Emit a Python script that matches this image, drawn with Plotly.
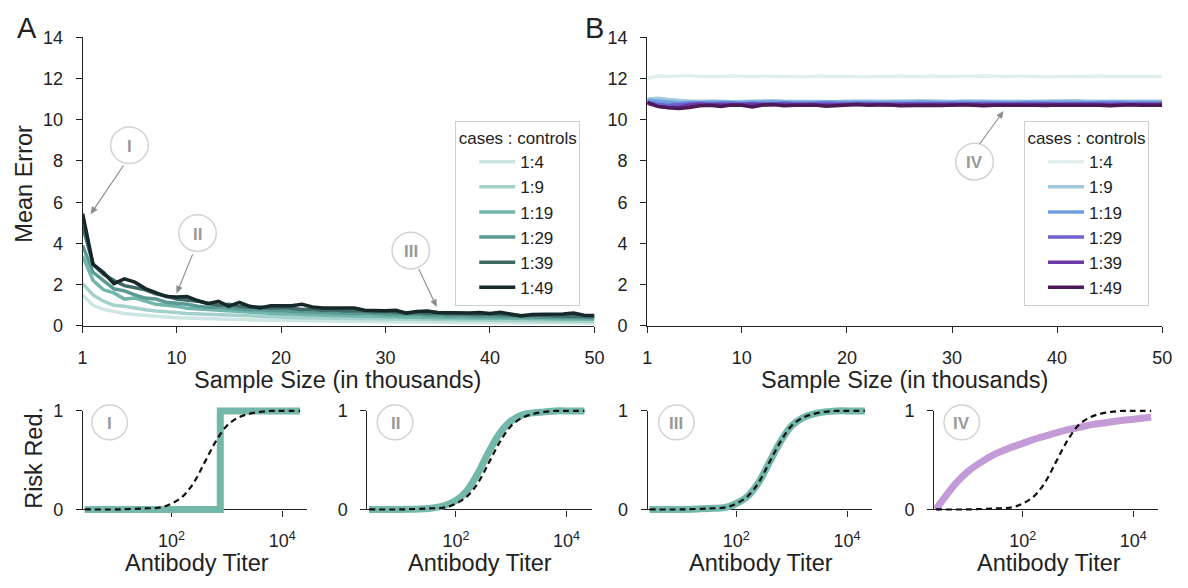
import math
import plotly.graph_objects as go

W, H = 1188, 588

# ---------------- data ----------------
sample_k = list(range(1, 51))
ratios = ["1:4", "1:9", "1:19", "1:29", "1:39", "1:49"]

err_A = {
    "1:4": [1.50, 1.00, 0.80, 0.68, 0.60, 0.55, 0.50, 0.46, 0.43, 0.40, 0.38, 0.36, 0.34, 0.33, 0.31, 0.30, 0.29,
            0.28, 0.27, 0.26, 0.25, 0.25, 0.24, 0.23, 0.23, 0.22, 0.22, 0.21, 0.21, 0.20, 0.20, 0.19, 0.19, 0.19,
            0.18, 0.18, 0.18, 0.17, 0.17, 0.17, 0.16, 0.16, 0.16, 0.16, 0.15, 0.15, 0.15, 0.15, 0.14, 0.14],
    "1:9": [2.05, 1.50, 1.20, 1.00, 0.95, 0.85, 0.78, 0.72, 0.70, 0.65, 0.60, 0.58, 0.55, 0.52, 0.50, 0.48, 0.47,
            0.45, 0.44, 0.42, 0.41, 0.40, 0.39, 0.38, 0.37, 0.36, 0.35, 0.35, 0.34, 0.33, 0.32, 0.32, 0.31, 0.30,
            0.30, 0.29, 0.29, 0.28, 0.28, 0.27, 0.27, 0.26, 0.26, 0.26, 0.25, 0.25, 0.24, 0.24, 0.24, 0.23],
    "1:19": [3.40, 2.20, 1.75, 1.60, 1.30, 1.35, 1.20, 1.05, 1.00, 0.95, 0.85, 0.82, 0.78, 0.74, 0.70, 0.68, 0.66,
             0.62, 0.60, 0.58, 0.58, 0.55, 0.53, 0.52, 0.50, 0.50, 0.48, 0.47, 0.46, 0.45, 0.44, 0.43, 0.44, 0.41,
             0.40, 0.41, 0.39, 0.38, 0.38, 0.37, 0.36, 0.37, 0.35, 0.35, 0.34, 0.35, 0.33, 0.33, 0.32, 0.32],
    "1:29": [3.90, 2.60, 2.20, 1.80, 1.70, 1.50, 1.35, 1.30, 1.15, 1.10, 1.05, 0.95, 0.90, 0.92, 0.85, 0.82, 0.78,
             0.80, 0.74, 0.72, 0.70, 0.72, 0.66, 0.65, 0.63, 0.62, 0.60, 0.62, 0.58, 0.56, 0.55, 0.54, 0.56, 0.50,
             0.52, 0.48, 0.50, 0.47, 0.46, 0.48, 0.44, 0.45, 0.43, 0.44, 0.42, 0.41, 0.42, 0.40, 0.41, 0.40],
    "1:39": [4.85, 3.00, 2.50, 2.20, 1.95, 1.85, 1.75, 1.55, 1.45, 1.30, 1.25, 1.20, 1.10, 1.00, 1.05, 0.95, 0.90,
             0.92, 0.85, 0.88, 0.85, 0.80, 0.82, 0.75, 0.78, 0.72, 0.74, 0.70, 0.68, 0.70, 0.66, 0.62, 0.65, 0.60,
             0.62, 0.58, 0.60, 0.57, 0.55, 0.58, 0.54, 0.52, 0.50, 0.52, 0.50, 0.48, 0.50, 0.47, 0.45, 0.46],
    "1:49": [5.45, 2.98, 2.59, 2.05, 2.28, 2.12, 1.81, 1.61, 1.42, 1.40, 1.42, 1.23, 1.08, 1.19, 0.95, 1.14, 0.95,
             0.87, 0.98, 0.98, 0.98, 1.05, 0.92, 0.87, 0.86, 0.84, 0.87, 0.76, 0.73, 0.73, 0.76, 0.62, 0.70, 0.72,
             0.65, 0.63, 0.64, 0.62, 0.65, 0.60, 0.66, 0.58, 0.48, 0.55, 0.56, 0.55, 0.58, 0.62, 0.52, 0.50],
}

err_B = {
    "1:4": [12.00, 12.12, 12.10, 12.13, 12.15, 12.10, 12.08, 12.10, 12.12, 12.10, 12.09, 12.11, 12.10, 12.12,
            12.10, 12.09, 12.11, 12.10, 12.12, 12.11, 12.10, 12.09, 12.10, 12.12, 12.11, 12.10, 12.12, 12.11,
            12.10, 12.09, 12.10, 12.11, 12.12, 12.10, 12.10, 12.11, 12.12, 12.10, 12.09, 12.10, 12.11, 12.10,
            12.12, 12.11, 12.10, 12.10, 12.11, 12.12, 12.11, 12.10],
    "1:9": [11.00, 11.05, 10.98, 10.92, 10.90, 10.90, 10.92, 10.90, 10.88, 10.90, 10.91, 10.90, 10.92, 10.90,
            10.89, 10.90, 10.91, 10.90, 10.88, 10.90, 10.92, 10.91, 10.90, 10.89, 10.90, 10.91, 10.92, 10.90,
            10.90, 10.89, 10.91, 10.90, 10.90, 10.92, 10.91, 10.90, 10.89, 10.90, 10.91, 10.90, 10.90, 10.92,
            10.90, 10.89, 10.90, 10.91, 10.90, 10.90, 10.91, 10.90],
    "1:19": [10.95, 10.90, 10.85, 10.82, 10.85, 10.83, 10.86, 10.84, 10.85, 10.83, 10.86, 10.85, 10.84, 10.86,
             10.85, 10.83, 10.84, 10.86, 10.85, 10.84, 10.85, 10.86, 10.84, 10.85, 10.83, 10.85, 10.86, 10.84,
             10.85, 10.84, 10.86, 10.85, 10.84, 10.85, 10.86, 10.84, 10.85, 10.83, 10.85, 10.86, 10.84, 10.85,
             10.84, 10.85, 10.86, 10.84, 10.85, 10.85, 10.84, 10.85],
    "1:29": [10.85, 10.75, 10.70, 10.72, 10.78, 10.80, 10.76, 10.78, 10.80, 10.77, 10.79, 10.78, 10.76, 10.80,
             10.78, 10.77, 10.79, 10.80, 10.78, 10.77, 10.79, 10.78, 10.80, 10.78, 10.77, 10.78, 10.79, 10.77,
             10.78, 10.80, 10.78, 10.77, 10.79, 10.78, 10.77, 10.78, 10.80, 10.78, 10.79, 10.77, 10.78, 10.79,
             10.78, 10.77, 10.78, 10.80, 10.78, 10.79, 10.78, 10.78],
    "1:39": [10.80, 10.65, 10.60, 10.62, 10.70, 10.75, 10.72, 10.74, 10.70, 10.73, 10.76, 10.72, 10.74, 10.75,
             10.73, 10.72, 10.75, 10.74, 10.72, 10.74, 10.75, 10.73, 10.74, 10.72, 10.75, 10.74, 10.73, 10.75,
             10.74, 10.72, 10.74, 10.75, 10.73, 10.74, 10.75, 10.73, 10.72, 10.74, 10.75, 10.73, 10.74, 10.75,
             10.73, 10.74, 10.72, 10.74, 10.75, 10.74, 10.73, 10.74],
    "1:49": [10.85, 10.65, 10.58, 10.55, 10.60, 10.68, 10.70, 10.65, 10.72, 10.70, 10.62, 10.72, 10.74, 10.68,
             10.70, 10.73, 10.72, 10.66, 10.70, 10.72, 10.74, 10.70, 10.71, 10.73, 10.68, 10.70, 10.72, 10.71,
             10.69, 10.72, 10.73, 10.70, 10.68, 10.71, 10.72, 10.70, 10.73, 10.71, 10.69, 10.72, 10.70, 10.71,
             10.73, 10.70, 10.68, 10.72, 10.73, 10.71, 10.72, 10.71],
}

colors_A = ["#cde6e3", "#a5d1cc", "#72b6ab", "#5b9a94", "#3f6a66", "#15292a"]
colors_B = ["#e2efef", "#a2c8de", "#6e9fe0", "#6f62cf", "#6a3aa6", "#4c1a58"]

titer = [2.7, 10, 32, 63, 100, 158, 251, 398, 631, 1000, 1585, 2512, 3981, 6310, 10000, 21000]
true_curve = [0.00, 0.00, 0.01, 0.02, 0.06, 0.13, 0.27, 0.48, 0.69, 0.85, 0.93, 0.97, 0.99, 1.00, 1.00, 1.00]
est_II = [0.00, 0.00, 0.01, 0.04, 0.09, 0.19, 0.37, 0.59, 0.78, 0.90, 0.96, 0.98, 0.99, 1.00, 1.00, 1.00]
est_III = [0.00, 0.00, 0.01, 0.02, 0.06, 0.13, 0.27, 0.48, 0.69, 0.85, 0.93, 0.97, 0.99, 1.00, 1.00, 1.00]
titer_I = [2.7, 760, 760, 21000]
est_I = [0.0, 0.0, 1.0, 1.0]
titer_IV = [2.7, 4, 6.3, 10, 17.8, 31.6, 56, 100, 178, 316, 562, 1000, 1778, 3162, 5623, 10000, 21000]
est_IV = [0.0, 0.13, 0.27, 0.38, 0.48, 0.56, 0.62, 0.67, 0.72, 0.76, 0.80, 0.83, 0.86, 0.88, 0.90, 0.915, 0.935]

# ---------------- helpers ----------------
FONT = "Helvetica, Arial, Liberation Sans, sans-serif"
AX = "#222222"
TICK_FS = 18
TITLE_FS = 23.5


def px(x):
    return x / W


def py(y):
    return 1 - y / H


fig = go.Figure()

# top panels
for i, r in enumerate(ratios):
    fig.add_trace(go.Scatter(x=sample_k, y=err_A[r], mode="lines", name=r,
                             line=dict(color=colors_A[i], width=3.5), xaxis="x", yaxis="y",
                             legend="legend"))
for i, r in enumerate(ratios):
    fig.add_trace(go.Scatter(x=sample_k, y=err_B[r], mode="lines", name=r,
                             line=dict(color=colors_B[i], width=3.5), xaxis="x2", yaxis="y2",
                             legend="legend2"))

top_y_dom = [py(327), py(28.3)]
ax_common = dict(showline=True, linecolor=AX, linewidth=1.2, ticks="outside", ticklen=6,
                 tickcolor=AX, showgrid=False, zeroline=False, ticklabelstandoff=9,
                 tickfont=dict(size=TICK_FS, color=AX, family=FONT))

layout = dict(
    width=W, height=H, margin=dict(l=0, r=0, t=0, b=0),
    paper_bgcolor="white", plot_bgcolor="rgba(0,0,0,0)",
    font=dict(family=FONT, color=AX),
    xaxis=dict(domain=[px(78.6), px(597)], range=[1, 50], tickvals=[1, 10, 20, 30, 40, 50],
               anchor="y", **ax_common),
    yaxis=dict(domain=top_y_dom, range=[0, 14], tickvals=list(range(0, 15, 2)), anchor="x",
               **ax_common),
    xaxis2=dict(domain=[px(650.5), px(1172)], range=[1, 50], tickvals=[1, 10, 20, 30, 40, 50],
                anchor="y2", **ax_common),
    yaxis2=dict(domain=top_y_dom, range=[0, 14], tickvals=list(range(0, 15, 2)), anchor="x2",
                **ax_common),
)

# bottom panels
bot_left = [79, 367, 651, 941]
bot_w = 227
xr = [0.4, 4.45]
y0p, y1p = 517, 415
pad = 6
padu = pad / (y0p - y1p)
est_list = [(titer_I, est_I, "#74b8ab"), (titer, est_II, "#74b8ab"), (titer, est_III, "#74b8ab"),
            (titer_IV, est_IV, "#c39bd6")]

for k in range(4):
    dn = 3 + k          # display axes
    dd = 7 + k          # data axes
    dom = [px(bot_left[k]), px(bot_left[k] + bot_w)]
    layout[f"xaxis{dn}"] = dict(domain=dom, type="log", range=xr, tickvals=[100, 10000],
                                ticktext=["10<sup>2</sup>", "10<sup>4</sup>"], anchor=f"y{dn}",
                                **ax_common)
    layout[f"yaxis{dn}"] = dict(domain=[py(y0p), py(y1p)], range=[0, 1], tickvals=[0, 1],
                                anchor=f"x{dn}", **ax_common)
    layout[f"xaxis{dd}"] = dict(domain=dom, type="log", range=xr, visible=False, anchor=f"y{dd}")
    layout[f"yaxis{dd}"] = dict(domain=[py(y0p + pad), py(y1p - pad)], range=[-padu, 1 + padu],
                                visible=False, anchor=f"x{dd}")
    fig.add_trace(go.Scatter(x=[100], y=[0.5], mode="markers", marker=dict(opacity=0),
                             hoverinfo="skip", showlegend=False, xaxis=f"x{dn}", yaxis=f"y{dn}"))
    tx, ty, col = est_list[k]
    fig.add_trace(go.Scatter(x=tx, y=ty, mode="lines", showlegend=False,
                             line=dict(color=col, width=7, shape="linear" if k == 0 else "spline"),
                             xaxis=f"x{dd}", yaxis=f"y{dd}"))
    fig.add_trace(go.Scatter(x=titer, y=true_curve, mode="lines", showlegend=False,
                             line=dict(color="#111111", width=2.2, dash="6px,4px", shape="spline"),
                             xaxis=f"x{dd}", yaxis=f"y{dd}"))

leg_common = dict(bgcolor="white", bordercolor="#cfcfcf", borderwidth=1,
                  font=dict(size=17, family=FONT, color=AX), xanchor="left", yanchor="top",
                  itemwidth=36, indentation=18, tracegroupgap=0,
                  title=dict(text="cases : controls", side="top center",
                             font=dict(size=17, family=FONT, color=AX)))
layout["legend"] = dict(x=px(456), y=py(115), **leg_common)
layout["legend2"] = dict(x=px(1032), y=py(115), **leg_common)

fig.update_layout(**layout)

# text annotations
ann = []


def text(x, y, s, size, angle=0, color=AX):
    ann.append(dict(x=px(x), y=py(y), xref="paper", yref="paper", text=s, showarrow=False,
                    textangle=angle, font=dict(size=size, color=color, family=FONT),
                    xanchor="center", yanchor="middle"))


text(22, 19, "A", 29)
text(597, 19, "B", 29)
text(19, 180, "Mean Error", TITLE_FS, -90)
text(337, 383, "Sample Size (in thousands)", TITLE_FS)
text(911, 383, "Sample Size (in thousands)", TITLE_FS)
text(30, 464, "Risk Red.", TITLE_FS, -90)
for cx in [194, 481, 766, 1057]:
    text(cx, 572, "Antibody Titer", TITLE_FS)

# roman numeral circles
circles = [(126, 140, "I"), (195, 231, "II"), (411, 249, "III"), (982, 157, "IV"),
           (106, 427, "I"), (395, 427, "II"), (680, 427, "III"), (969, 427, "IV")]
shapes = []
for cx, cy, s in circles:
    r = 19 if cy < 400 else 18
    shapes.append(dict(type="circle", xref="paper", yref="paper", x0=px(cx - r), x1=px(cx + r),
                       y0=py(cy + r), y1=py(cy - r), line=dict(color="#d3d3d3", width=1.5),
                       fillcolor="white", layer="above"))
    text(cx, cy + 1, "<b>" + s + "</b>", 17, color="#9a9a9a")

# arrows (head, tail) drawn as a line plus a small triangular head
arrows = [((87, 211), (120, 161)), ((174, 293), (190, 253)), ((437, 307), (419, 268)),
          ((1011, 105), (987, 139))]
ACOL = "#8a8a8a"
for (hx, hy), (tx_, ty_) in arrows:
    dx, dy = hx - tx_, hy - ty_
    L = math.hypot(dx, dy)
    ux, uy = dx / L, dy / L
    hl, hw = 7, 3
    bx, by = hx - ux * hl, hy - uy * hl
    shapes.append(dict(type="line", xref="paper", yref="paper", x0=px(tx_), y0=py(ty_),
                       x1=px(bx), y1=py(by), line=dict(color=ACOL, width=1.1), layer="above"))
    p1 = (bx - uy * hw, by + ux * hw)
    p2 = (bx + uy * hw, by - ux * hw)
    path = (f"M {px(hx)} {py(hy)} L {px(p1[0])} {py(p1[1])} L {px(p2[0])} {py(p2[1])} Z")
    shapes.append(dict(type="path", xref="paper", yref="paper", path=path, fillcolor=ACOL,
                       line=dict(color=ACOL, width=0.5), layer="above"))

fig.update_layout(annotations=ann, shapes=shapes)
fig.write_html(
    "out.html",
    post_script="document.body.style.margin='0px';document.body.style.padding='0px';"
                "document.documentElement.style.overflow='hidden';",
)
